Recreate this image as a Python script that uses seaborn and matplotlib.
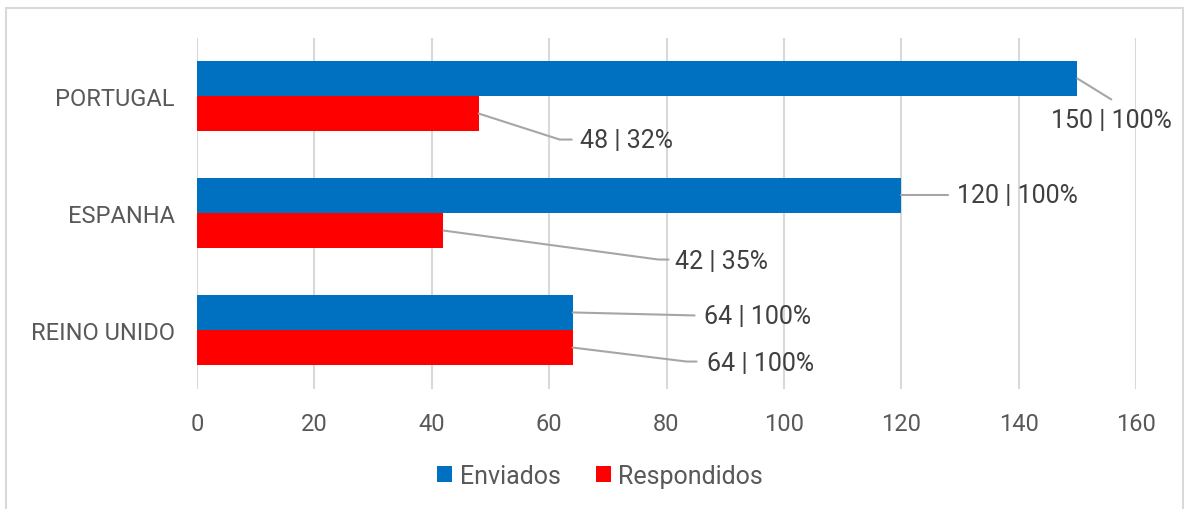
import matplotlib
matplotlib.use("Agg")
import matplotlib.pyplot as plt
import seaborn as sns
import pandas as pd
from matplotlib.patches import Rectangle

categories = ["PORTUGAL", "ESPANHA", "REINO UNIDO"]
enviados = [150, 120, 64]
respondidos = [48, 42, 64]
series_names = ["Enviados", "Respondidos"]
x_ticks = [0, 20, 40, 60, 80, 100, 120, 140, 160]

df = pd.DataFrame({
    "pais": categories * 2,
    "valor": enviados + respondidos,
    "serie": [series_names[0]] * 3 + [series_names[1]] * 3,
})

sns.set_theme(style="white")
plt.rcParams["font.family"] = ["Roboto", "DejaVu Sans"]

W, H, DPI = 1184, 510, 100
fig = plt.figure(figsize=(W / DPI, H / DPI), dpi=DPI)
ax = fig.add_axes([197 / W, 1 - 389.5 / H, (1136 - 197) / W, (389.5 - 38.5) / H])

sns.barplot(data=df, x="valor", y="pais", hue="serie", orient="h",
            palette=["#0070C0", "#FF0000"], saturation=1, width=0.6,
            gap=0, linewidth=0, ax=ax, legend=True)

ax.set_xlim(0, 160)
ax.set_ylim(2.5, -0.5)
ax.set_xticks(x_ticks)
ax.set_xlabel("")
ax.set_ylabel("")
for s in ax.spines.values():
    s.set_visible(False)
ax.grid(axis="x", color="#D9D9D9", linewidth=1.5)
ax.grid(axis="y", visible=False)
ax.set_axisbelow(True)
ax.tick_params(axis="x", length=0, pad=17, labelsize=17, labelcolor="#595959")
ax.tick_params(axis="y", length=0, pad=16, labelsize=17, labelcolor="#595959")

# legend
handles, labels = ax.get_legend_handles_labels()
ax.legend(handles, labels, loc="center", bbox_to_anchor=(600 / W, 1 - 477 / H),
          bbox_transform=fig.transFigure, ncol=2, frameon=False,
          fontsize=18, labelcolor="#595959", handlelength=0.6, handleheight=0.6,
          handletextpad=0.3, columnspacing=1.4)

# data labels with leader lines; key = (category index, series index)
# pixel offsets from bar end: kink point, line end, text anchor
offsets = {
    (0, 0): [(34, 21), (34, 21), (34, 30, "center", "top")],
    (0, 1): [(81, 26), (93, 26), (101, 26, "left", "center")],
    (1, 0): [(0, 0), (47, 0), (56, 0, "left", "center")],
    (1, 1): [(215, 29), (225, 29), (232, 30, "left", "center")],
    (2, 0): [(122, 3), (122, 3), (131, 4, "left", "center")],
    (2, 1): [(114, 14), (124, 14), (134, 15, "left", "center")],
}

fig.canvas.draw()
inv = ax.transData.inverted()
values = [enviados, respondidos]
for si, cont in enumerate(ax.containers):
    for ci, p in enumerate(cont.patches):
        v = values[si][ci]
        pct = round(v / enviados[ci] * 100)
        x0 = p.get_width()
        y0 = p.get_y() + p.get_height() / 2
        px0, py0 = ax.transData.transform((x0, y0))
        (k1, k2, t) = offsets[(ci, si)]
        pts = [(px0, py0), (px0 + k1[0], py0 - k1[1]), (px0 + k2[0], py0 - k2[1])]
        dpts = inv.transform(pts)
        ax.plot(dpts[:, 0], dpts[:, 1], color="#A6A6A6", linewidth=1.5,
                clip_on=False, zorder=5)
        tx, ty = inv.transform((px0 + t[0], py0 - t[1]))
        ax.text(tx, ty, f"{v} | {pct}%", ha=t[2], va=t[3], fontsize=18,
                color="#404040", clip_on=False, zorder=6)

fig.patches.append(Rectangle((5.5 / W, -0.1), (1183 - 5.5) / W, 1.1 - 9 / H,
                             transform=fig.transFigure, fill=False,
                             edgecolor="#D9D9D9", linewidth=1.5))

fig.savefig("out.png", dpi=DPI)
